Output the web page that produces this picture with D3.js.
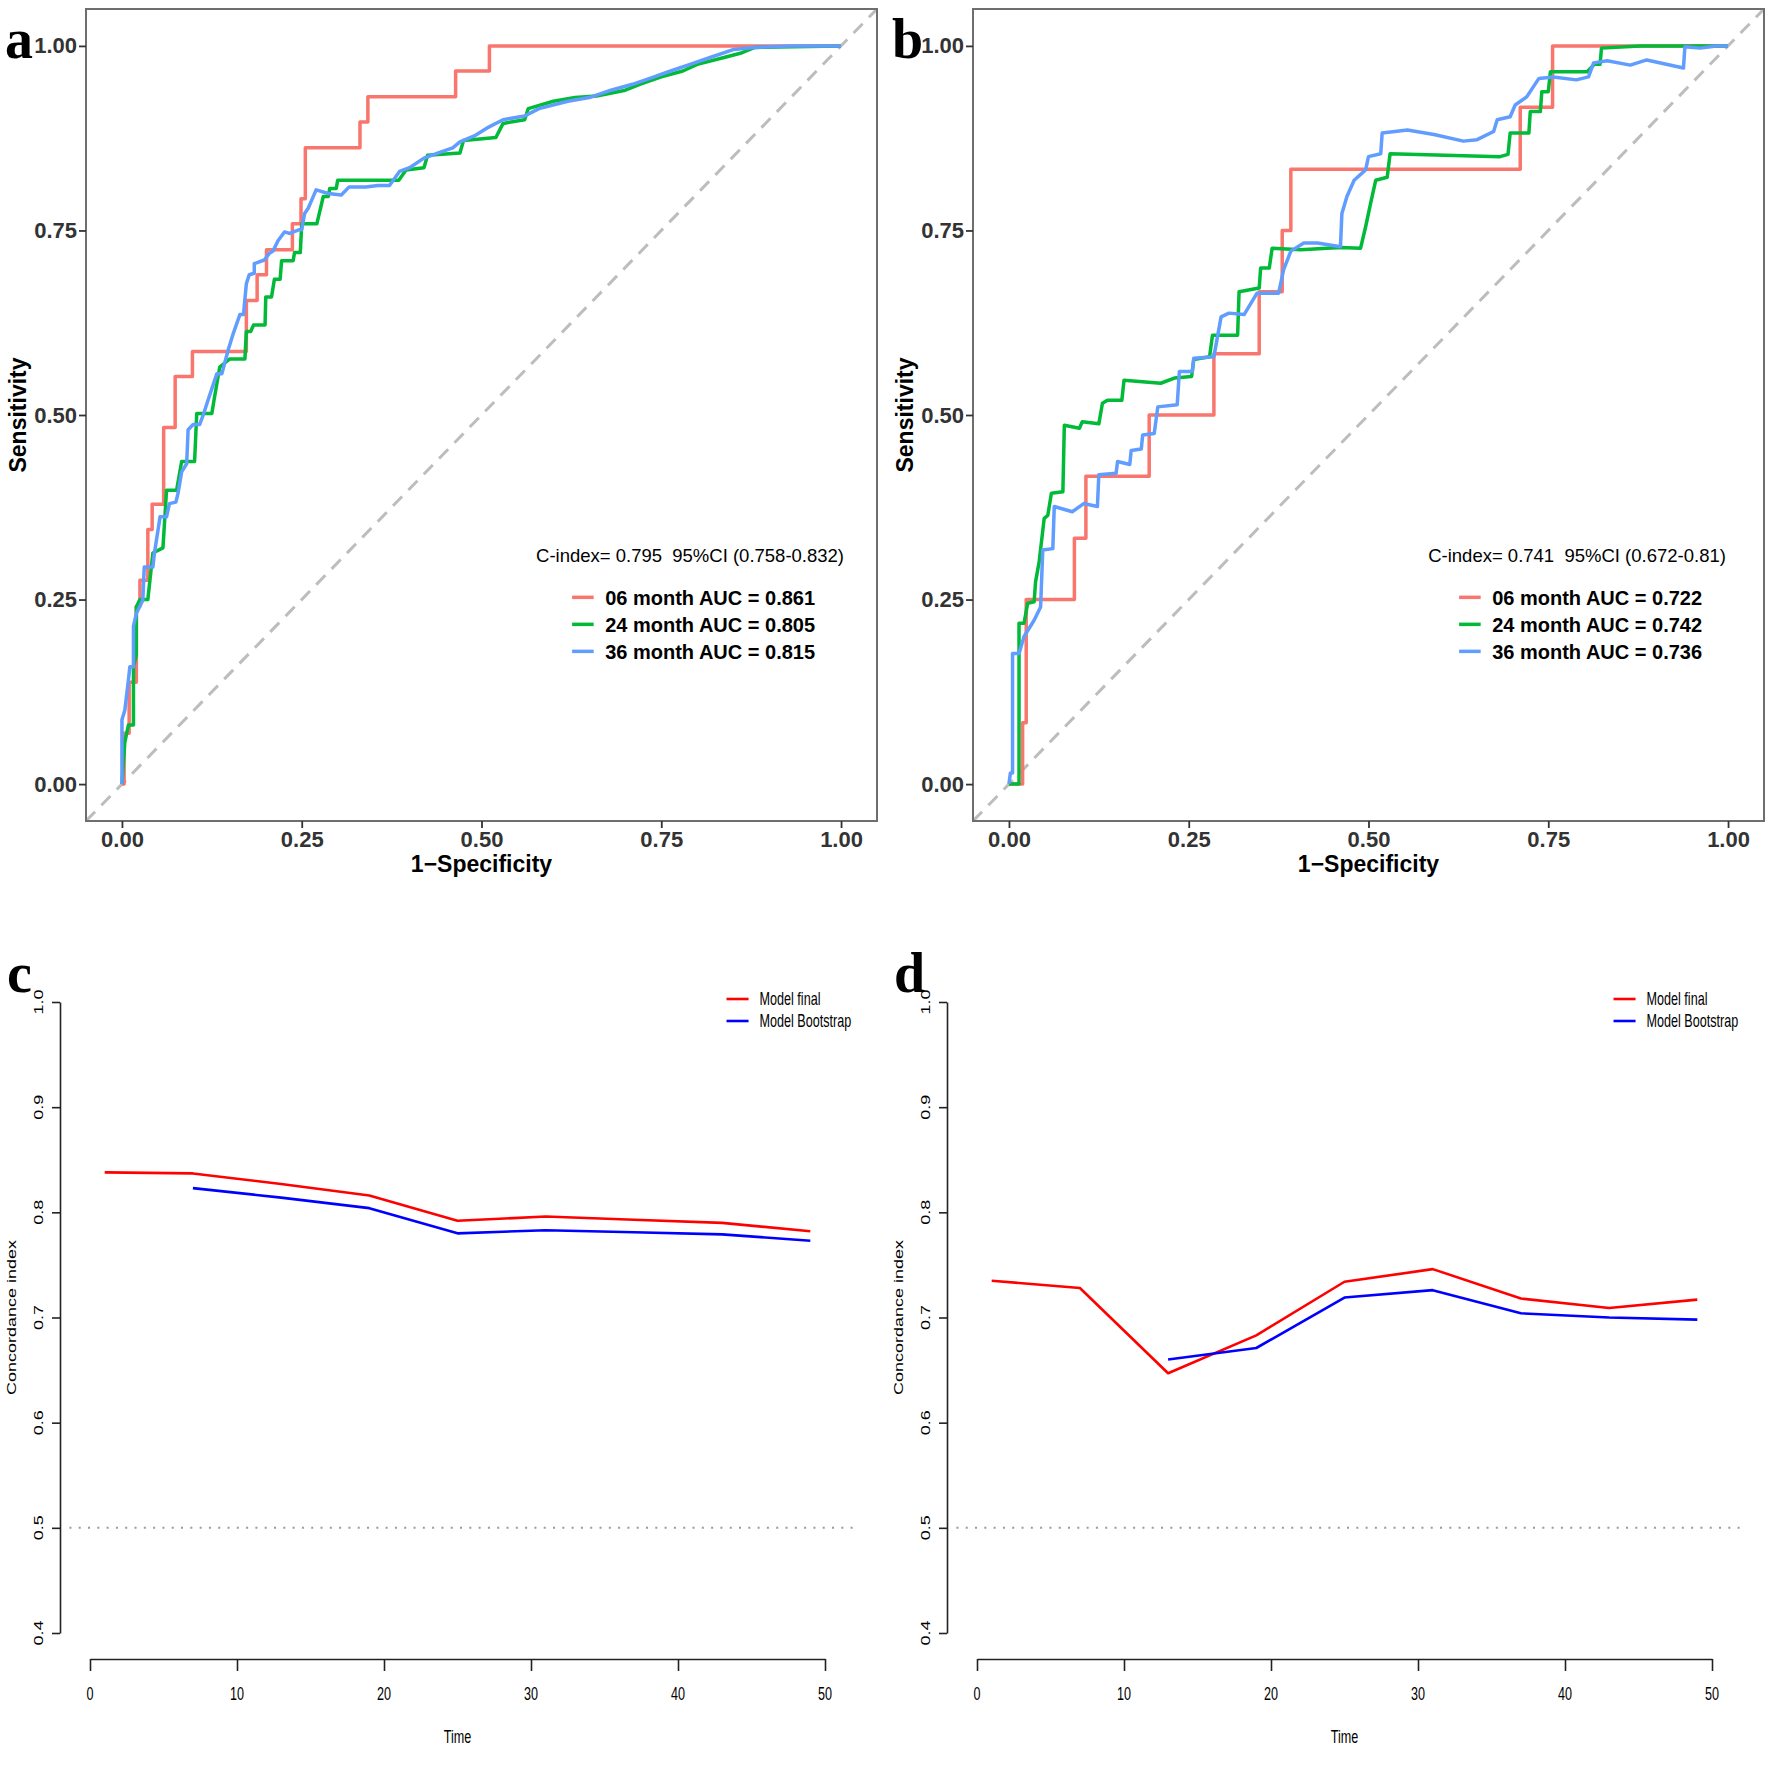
<!DOCTYPE html>
<html lang="en">
<head>
<meta charset="UTF-8">
<title>ROC and C-index</title>
<script src="https://d3js.org/d3.v7.min.js"></script>
<style>
  body { margin: 0; background: #fff; }
  svg { display: block; background: #fff; }
  .gg text { font-family: "Liberation Sans", Arial, sans-serif; }
  .base text { font-family: "Liberation Sans", Arial, sans-serif; }
</style>
</head>
<body>
<svg id="chart" width="1772" height="1772"></svg>
<script>
// ---- data ----
const rocTicks = [0, 0.25, 0.5, 0.75, 1];
const rocColors = ["#F8766D", "#00BA38", "#619CFF"];

const legendA = ["06 month AUC = 0.861", "24 month AUC = 0.805", "36 month AUC = 0.815"];
const legendB = ["06 month AUC = 0.722", "24 month AUC = 0.742", "36 month AUC = 0.736"];
const cindexA = "C-index= 0.795  95%CI (0.758-0.832)";
const cindexB = "C-index= 0.741  95%CI (0.672-0.81)";

// [1-specificity, sensitivity]; 06 month curves are pure steps
const roc06A = [[0,0],[0.003,0.069],[0.010,0.138],[0.020,0.241],[0.025,0.276],[0.036,0.345],[0.042,0.379],
  [0.058,0.483],[0.074,0.552],[0.098,0.586],[0.173,0.655],[0.188,0.690],[0.201,0.724],[0.237,0.759],
  [0.249,0.793],[0.255,0.862],[0.331,0.897],[0.342,0.931],[0.464,0.966],[0.511,1],[1,1]];
const roc24A = [[0,0],[0.004,0.057],[0.009,0.080],[0.016,0.080],[0.016,0.159],[0.020,0.175],[0.020,0.240],
  [0.025,0.250],[0.036,0.250],[0.043,0.313],[0.057,0.320],[0.062,0.398],[0.076,0.398],[0.083,0.437],
  [0.101,0.437],[0.104,0.502],[0.125,0.502],[0.128,0.520],[0.136,0.565],[0.150,0.576],[0.171,0.576],
  [0.173,0.613],[0.179,0.613],[0.183,0.622],[0.199,0.622],[0.200,0.660],[0.208,0.660],[0.212,0.684],
  [0.220,0.684],[0.222,0.709],[0.238,0.709],[0.240,0.720],[0.248,0.720],[0.250,0.759],[0.271,0.759],
  [0.280,0.796],[0.287,0.796],[0.289,0.807],[0.298,0.807],[0.300,0.818],[0.385,0.818],[0.395,0.832],
  [0.420,0.835],[0.425,0.852],[0.470,0.855],[0.475,0.872],[0.520,0.876],[0.530,0.895],[0.560,0.900],
  [0.565,0.915],[0.600,0.925],[0.630,0.930],[0.660,0.932],[0.700,0.940],[0.720,0.948],[0.750,0.958],
  [0.780,0.966],[0.800,0.975],[0.840,0.985],[0.860,0.990],[0.880,0.998],[1,1]];
const roc36A = [[0,0],[0,0.087],[0.004,0.100],[0.009,0.141],[0.011,0.159],[0.016,0.159],[0.016,0.214],
  [0.020,0.231],[0.029,0.249],[0.031,0.294],[0.043,0.294],[0.045,0.312],[0.053,0.362],[0.062,0.362],
  [0.066,0.380],[0.075,0.382],[0.078,0.394],[0.083,0.423],[0.090,0.434],[0.092,0.480],[0.099,0.487],
  [0.108,0.487],[0.113,0.500],[0.120,0.521],[0.132,0.556],[0.139,0.556],[0.148,0.589],[0.155,0.611],
  [0.164,0.636],[0.169,0.636],[0.173,0.678],[0.177,0.690],[0.184,0.692],[0.184,0.705],[0.198,0.710],
  [0.205,0.719],[0.210,0.722],[0.217,0.736],[0.226,0.748],[0.233,0.746],[0.247,0.751],[0.250,0.751],
  [0.254,0.773],[0.259,0.780],[0.263,0.789],[0.270,0.805],[0.287,0.800],[0.305,0.798],[0.316,0.809],
  [0.339,0.809],[0.356,0.811],[0.372,0.811],[0.386,0.830],[0.400,0.835],[0.420,0.848],[0.440,0.855],
  [0.460,0.862],[0.470,0.870],[0.490,0.878],[0.510,0.890],[0.530,0.900],[0.560,0.905],[0.580,0.915],
  [0.620,0.925],[0.650,0.930],[0.680,0.940],[0.710,0.948],[0.740,0.958],[0.760,0.965],[0.790,0.975],
  [0.820,0.985],[0.850,0.995],[0.880,0.998],[0.930,1],[1,1]];

const roc06B = [[0,0],[0.019,0.083],[0.024,0.250],[0.091,0.333],[0.107,0.417],[0.195,0.500],[0.285,0.583],
  [0.348,0.667],[0.380,0.750],[0.392,0.833],[0.711,0.917],[0.756,1],[1,1]];
const roc24B = [[0,0],[0.014,0],[0.014,0.218],[0.021,0.218],[0.026,0.245],[0.035,0.247],[0.037,0.274],
  [0.042,0.301],[0.049,0.360],[0.054,0.364],[0.059,0.394],[0.075,0.396],[0.077,0.486],[0.098,0.482],
  [0.102,0.491],[0.125,0.488],[0.130,0.516],[0.137,0.520],[0.157,0.520],[0.160,0.547],[0.211,0.543],
  [0.230,0.550],[0.254,0.552],[0.257,0.575],[0.279,0.579],[0.283,0.608],[0.318,0.608],[0.320,0.667],
  [0.348,0.672],[0.350,0.699],[0.362,0.699],[0.366,0.726],[0.406,0.724],[0.461,0.727],[0.489,0.726],
  [0.496,0.755],[0.503,0.787],[0.510,0.818],[0.526,0.822],[0.530,0.854],[0.683,0.850],[0.694,0.853],
  [0.697,0.882],[0.723,0.882],[0.725,0.911],[0.739,0.911],[0.741,0.938],[0.750,0.938],[0.753,0.965],
  [0.804,0.965],[0.814,0.975],[0.822,0.975],[0.824,0.997],[0.878,1],[1,1]];
const roc36B = [[0,0],[0.002,0.015],[0.005,0.015],[0.005,0.177],[0.014,0.177],[0.021,0.200],[0.035,0.222],
  [0.044,0.240],[0.047,0.317],[0.061,0.319],[0.063,0.376],[0.088,0.369],[0.104,0.380],[0.123,0.376],
  [0.125,0.419],[0.149,0.421],[0.151,0.437],[0.168,0.433],[0.170,0.452],[0.184,0.454],[0.186,0.473],
  [0.202,0.475],[0.207,0.511],[0.234,0.514],[0.237,0.559],[0.255,0.559],[0.257,0.577],[0.285,0.579],
  [0.295,0.633],[0.306,0.638],[0.327,0.636],[0.345,0.665],[0.375,0.665],[0.382,0.697],[0.392,0.722],
  [0.410,0.733],[0.429,0.733],[0.461,0.728],[0.463,0.773],[0.470,0.796],[0.480,0.818],[0.496,0.832],
  [0.500,0.850],[0.517,0.854],[0.519,0.882],[0.554,0.886],[0.591,0.880],[0.632,0.871],[0.651,0.873],
  [0.674,0.884],[0.679,0.900],[0.697,0.904],[0.704,0.920],[0.720,0.931],[0.737,0.956],[0.757,0.958],
  [0.789,0.954],[0.806,0.958],[0.813,0.977],[0.832,0.980],[0.864,0.974],[0.887,0.981],[0.938,0.970],
  [0.940,0.999],[0.961,0.997],[0.984,1],[1,1]];

// concordance index over time
const timeTicks = [0, 10, 20, 30, 40, 50];
const cTicks = [0.4, 0.5, 0.6, 0.7, 0.8, 0.9, 1.0];
const times = [1, 7, 13, 19, 25, 31, 37, 43, 49];
const finalC = [0.838, 0.837, 0.827, 0.816, 0.792, 0.796, 0.793, 0.790, 0.782];
const bootC  = [null, 0.823, 0.814, 0.804, 0.780, 0.783, 0.781, 0.779, 0.773];
const finalD = [0.735, 0.728, 0.647, 0.683, 0.734, 0.746, 0.718, 0.709, 0.717];
const bootD  = [null, null, 0.660, 0.671, 0.719, 0.726, 0.704, 0.700, 0.698];
const modelNames = ["Model final", "Model Bootstrap"];
const modelColors = ["#FF0000", "#0000FF"];

const svg = d3.select("#chart");

// ---- ROC panels (ggplot look) ----
function drawRoc(left, letter, curves, labels, cText, id) {
  const g = svg.append("g").attr("class", "gg");
  const x = d3.scaleLinear().domain([-0.05, 1.05]).range([left, left + 791]);
  const y = d3.scaleLinear().domain([-0.05, 1.05]).range([821, 9]);

  g.append("clipPath").attr("id", id)
    .append("rect").attr("x", left).attr("y", 9).attr("width", 791).attr("height", 812);

  const plot = g.append("g").attr("clip-path", `url(#${id})`);
  plot.append("line")
    .attr("x1", x(-0.05)).attr("y1", y(-0.05))
    .attr("x2", x(1.05)).attr("y2", y(1.05))
    .attr("stroke", "#BDBDBD").attr("stroke-width", 3)
    .attr("stroke-dasharray", "13,9");

  curves.forEach((c, i) => {
    const line = d3.line()
      .x(d => x(d[0])).y(d => y(d[1]))
      .curve(i === 0 ? d3.curveStepAfter : d3.curveLinear);
    plot.append("path").datum(c)
      .attr("d", line)
      .attr("fill", "none")
      .attr("stroke", rocColors[i])
      .attr("stroke-width", 3.5)
      .attr("stroke-linejoin", "round");
  });

  g.append("rect")
    .attr("x", left).attr("y", 9).attr("width", 791).attr("height", 812)
    .attr("fill", "none").attr("stroke", "#6E6E6E").attr("stroke-width", 2);

  const yAx = g.append("g").attr("transform", `translate(${left},0)`)
    .call(d3.axisLeft(y).tickValues(rocTicks).tickFormat(d3.format(".2f")).tickSize(7).tickPadding(2));
  const xAx = g.append("g").attr("transform", "translate(0,821)")
    .call(d3.axisBottom(x).tickValues(rocTicks).tickFormat(d3.format(".2f")).tickSize(7).tickPadding(3));
  [yAx, xAx].forEach(a => {
    a.select(".domain").remove();
    a.selectAll(".tick line").attr("stroke", "#333").attr("stroke-width", 1.8);
    a.selectAll(".tick text").attr("fill", "#333").attr("font-size", 22).attr("font-weight", "bold");
  });

  g.append("text")
    .attr("transform", `translate(${left - 60},${y(0.5)}) rotate(-90)`)
    .attr("text-anchor", "middle").attr("font-size", 23).attr("font-weight", "bold")
    .text("Sensitivity");
  g.append("text")
    .attr("x", x(0.5)).attr("y", 872)
    .attr("text-anchor", "middle").attr("font-size", 23).attr("font-weight", "bold")
    .text("1\u2212Specificity");

  // legend
  g.append("text")
    .attr("x", x(0.79)).attr("y", y(0.301))
    .attr("text-anchor", "middle").attr("font-size", 18.5)
    .style("white-space", "pre")
    .text(cText);
  labels.forEach((t, i) => {
    const yy = y(0.253 - i * 0.0366);
    g.append("line")
      .attr("x1", x(0.626)).attr("x2", x(0.656))
      .attr("y1", yy).attr("y2", yy)
      .attr("stroke", rocColors[i]).attr("stroke-width", 3.5);
    g.append("text")
      .attr("x", x(0.672)).attr("y", yy).attr("dy", "0.36em")
      .attr("font-size", 20).attr("font-weight", "bold")
      .text(t);
  });

  svg.append("text")
    .attr("x", left - 81).attr("y", 58)
    .attr("font-family", "Liberation Serif, Times New Roman, serif")
    .attr("font-weight", "bold").attr("font-size", 56)
    .text(letter);
}

drawRoc(86, "a", [roc06A, roc24A, roc36A], legendA, cindexA, "clipA");
drawRoc(973, "b", [roc06B, roc24B, roc36B], legendB, cindexB, "clipB");

// ---- C-index panels (base R look) ----
const sq = 0.7; // horizontal squeeze of the original bitmap

function drawCindex(offset, letter, fin, boot) {
  const g = svg.append("g").attr("class", "base");
  const x = d3.scaleLinear().domain([0, 50]).range([90 + offset, 825 + offset]);
  const y = d3.scaleLinear().domain([0.4, 1.0]).range([1633, 1002]);
  const axisX = 60 + offset;

  // reference at 0.5
  g.append("line")
    .attr("x1", x(-1.4)).attr("x2", x(52.2))
    .attr("y1", y(0.5)).attr("y2", y(0.5))
    .attr("stroke", "#9A9A9A").attr("stroke-width", 2)
    .attr("stroke-dasharray", "2,7.3");

  [fin, boot].forEach((vals, i) => {
    const line = d3.line()
      .defined((d, j) => vals[j] != null)
      .x((d, j) => x(times[j])).y((d, j) => y(vals[j]));
    g.append("path").datum(vals)
      .attr("d", line)
      .attr("fill", "none")
      .attr("stroke", modelColors[i])
      .attr("stroke-width", 2.6)
      .attr("stroke-linejoin", "round");
  });

  const yAx = g.append("g").attr("transform", `translate(${axisX},0)`)
    .call(d3.axisLeft(y).tickValues(cTicks).tickSize(8).tickSizeOuter(0).tickFormat(""));
  const xAx = g.append("g").attr("transform", "translate(0,1659)")
    .call(d3.axisBottom(x).tickValues(timeTicks).tickSize(12).tickSizeOuter(0).tickFormat(""));
  [yAx, xAx].forEach(a => {
    a.select(".domain").attr("stroke", "#222").attr("stroke-width", 1.6);
    a.selectAll(".tick line").attr("stroke", "#222").attr("stroke-width", 1.6);
  });

  g.selectAll(".ylab").data(cTicks).join("text")
    .attr("transform", d => `translate(${axisX - 17},${y(d)}) scale(${sq},1) rotate(-90)`)
    .attr("text-anchor", "middle").attr("font-size", 18)
    .text(d => d.toFixed(1));
  g.selectAll(".xlab").data(timeTicks).join("text")
    .attr("transform", d => `translate(${x(d)},1700) scale(${sq},1)`)
    .attr("text-anchor", "middle").attr("font-size", 18)
    .text(d => d);

  g.append("text")
    .attr("transform", `translate(${axisX - 44},${y(0.7)}) scale(${sq},1) rotate(-90)`)
    .attr("text-anchor", "middle").attr("font-size", 18)
    .text("Concordance index");
  g.append("text")
    .attr("transform", `translate(${x(25)},1743) scale(${sq},1)`)
    .attr("text-anchor", "middle").attr("font-size", 18)
    .text("Time");

  modelNames.forEach((name, i) => {
    const yy = 999 + i * 22;
    g.append("line")
      .attr("x1", x(43.3)).attr("x2", x(44.8))
      .attr("y1", yy).attr("y2", yy)
      .attr("stroke", modelColors[i]).attr("stroke-width", 2.6);
    g.append("text")
      .attr("transform", `translate(${x(45.55)},${yy}) scale(${sq},1)`)
      .attr("dy", "0.36em").attr("font-size", 18)
      .text(name);
  });

  svg.append("text")
    .attr("x", axisX - 53).attr("y", 992)
    .attr("font-family", "Liberation Serif, Times New Roman, serif")
    .attr("font-weight", "bold").attr("font-size", 56)
    .text(letter);
}

drawCindex(0, "c", finalC, bootC);
drawCindex(887, "d", finalD, bootD);
</script>
</body>
</html>
